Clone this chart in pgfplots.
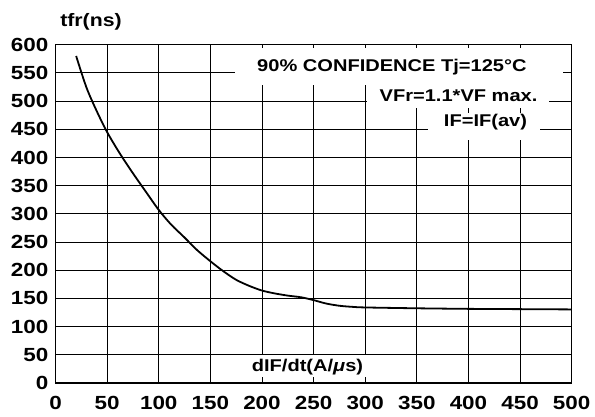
\documentclass[border=0pt]{standalone}
\usepackage{fontspec}
\setmainfont{Liberation Sans}[FakeStretch=1.18]
\usepackage{pgfplots}
\pgfplotsset{compat=1.18}
\begin{document}
\begin{tikzpicture}
\path[use as bounding box] (-55.5pt,-33pt) rectangle (539.5pt,383pt);
\begin{axis}[
  at={(0,0)}, anchor=south west,
  scale only axis, width=516.2pt, height=338.3pt,
  xmin=0, xmax=500, ymin=0, ymax=600,
  xtick={0,50,...,500}, ytick={0,50,...,600},
  grid=major, major grid style={black, line width=0.9pt},
  axis line style={black, line width=1.1pt},
  major tick length=0pt,
  /pgf/number format/assume math mode=true,
  tick label style={font=\bfseries\fontsize{19}{19}\selectfont, inner sep=0pt},
  xticklabel style={anchor=north, yshift=-13pt},
  yticklabel style={anchor=east, xshift=-7pt},
  clip=false,
]
\addplot[black, line width=1.8pt, smooth, tension=0.5] coordinates {
(20,580) (30,524) (40,482) (50,445) (62,408) (75,372) (88,338) (100,307)
(112,281) (125,258) (137,236) (150,216) (162,199) (175,183) (188,172)
(200,164) (212,159) (225,155) (238,152) (250,147) (262,141) (275,137)
(288,135) (300,134) (350,132.5) (400,131.5) (450,131) (500,130.5)
};
\fill[white] (axis cs:173.9,528.6) rectangle (axis cs:491.6,594.2);
\fill[white] (axis cs:301.7,487.8) rectangle (axis cs:478,528.6);
\fill[white] (axis cs:360.8,431) rectangle (axis cs:469.3,478.9);
\fill[white] (axis cs:166.1,10.6) rectangle (axis cs:319.2,49.7);
\node[font=\bfseries\fontsize{17}{17}\selectfont, inner sep=0pt] at (axis cs:325.9,559.6) {90\% CONFIDENCE Tj=125\textdegree C};
\node[font=\bfseries\fontsize{17}{17}\selectfont, inner sep=0pt] at (axis cs:390.4,509.9) {VFr=1.1*VF max.};
\node[font=\bfseries\fontsize{17}{17}\selectfont, inner sep=0pt] at (axis cs:416.5,462) {IF=IF(av)};
\node[font=\bfseries\fontsize{17}{17}\selectfont, inner sep=0pt] at (axis cs:244.1,27.5) {dIF/dt(A/\textit{μ}s)};
\node[inner sep=0pt, font=\bfseries\fontsize{18}{18}\selectfont] at (axis cs:34.4,640) {tfr(ns)};
\end{axis}
\end{tikzpicture}
\end{document}
